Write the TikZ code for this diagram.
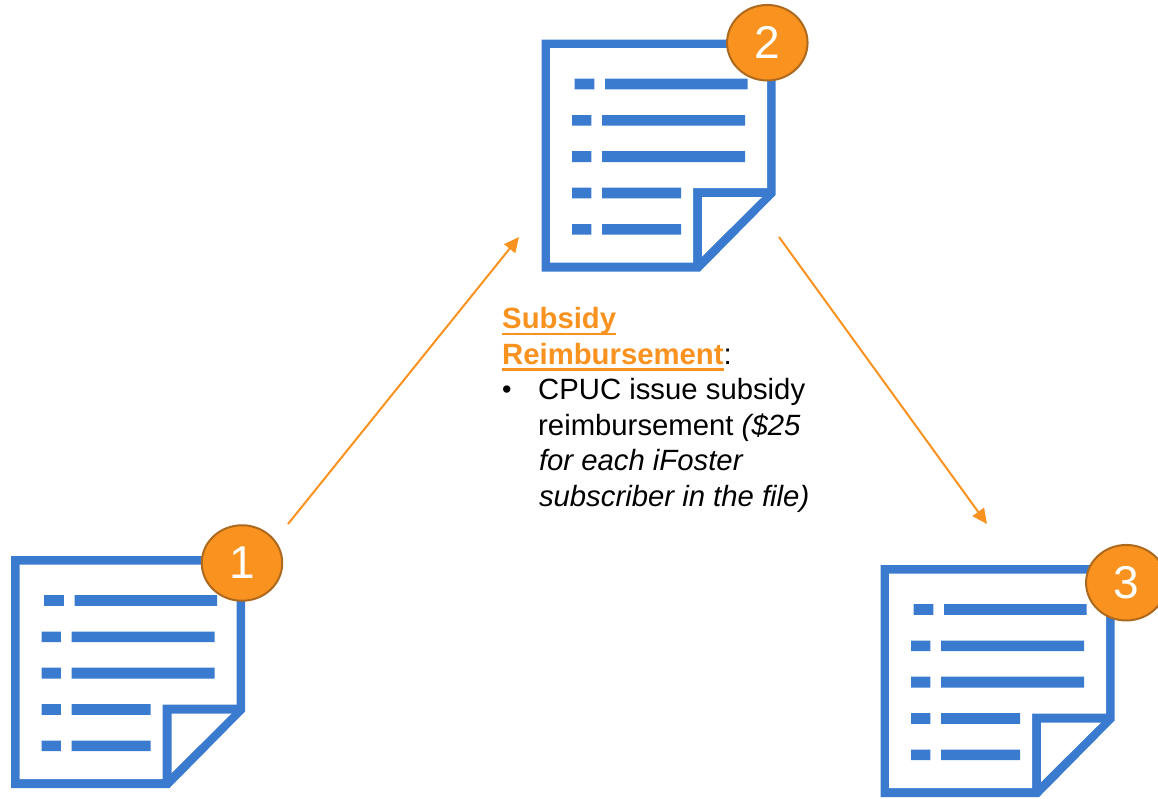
\documentclass[tikz,border=0pt]{standalone}
\usepackage{fontspec}
\setmainfont{Liberation Sans}
\usetikzlibrary{arrows.meta,shapes.geometric}
\definecolor{iconblue}{HTML}{3A7BD0}
\definecolor{accent}{HTML}{F9921F}
\definecolor{accentdark}{HTML}{AD6A1E}
\newcommand{\ulbar}[1]{\leavevmode\setbox0\hbox{#1}\rlap{\rule[-6.6pt]{\wd0}{2.8pt}}\box0}
\tikzset{
  badge/.style={ellipse,draw=accentdark,line width=2pt,fill=accent,text=white,
    minimum width=80.5pt,minimum height=75.5pt,inner sep=0pt,font=\fontsize{46}{50}\selectfont},
  flow/.style={draw=accent,line width=2pt,-{Triangle[length=15pt,width=14pt]}},
  bar/.style={fill=iconblue},
  pics/noteicon/.style={code={
    \fill[iconblue] (0,0) -- (234,0) -- (234,155.5) -- (158.5,232) -- (0,232) -- cycle;
    \fill[white] (8.5,8.5) -- (225.5,8.5) -- (225.5,148.5) -- (151.5,148.5) -- (151.5,223) -- (8.5,223) -- cycle;
    \fill[white] (160.5,157.5) -- (220.5,157.5) -- (160.5,217) -- cycle;
    \path[bar] (33.2,39.2) rectangle (52.8,49.8) (63.5,39.2) rectangle (206.2,49.8);
    \path[bar] (30.5,75.5) rectangle (49.8,86.2) (60.5,75.5) rectangle (203.5,86.2);
    \path[bar] (30.5,111.5) rectangle (49.8,122.5) (60.5,111.5) rectangle (203.5,122.5);
    \path[bar] (30.5,148.2) rectangle (49.8,158.8) (60.5,148.2) rectangle (139.5,158.8);
    \path[bar] (30.5,184.5) rectangle (49.8,195.2) (60.5,184.5) rectangle (139.5,195.2);
  }}
}
\begin{document}
\begin{tikzpicture}[x=1pt,y=-1pt]
\clip (0,0) rectangle (1158,798);
\fill[white] (0,0) rectangle (1158,798);
\pic (icona) at (11,556) {noteicon};
\pic (iconb) at (541.5,39.5) {noteicon};
\pic (iconc) at (880.5,565) {noteicon};
\node[badge] (one) at (242,563) {1};
\node[badge] (two) at (767.3,42.7) {2};
\node[badge] (three) at (1126.3,582.7) {3};
\coordinate (s1) at (288,524);
\coordinate (e1) at (519,237);
\coordinate (s2) at (779,237);
\coordinate (e2) at (987,524);
\draw[flow] (s1) -- (e1);
\draw[flow] (s2) -- (e2);
\node[anchor=north west,inner sep=0pt,align=left,font=\fontsize{29.3}{35.5}\selectfont] (body) at (502,307.3) {%
  \textcolor{accent}{\ulbar{\textbf{Subsidy}}}\\
  \textcolor{accent}{\ulbar{\textbf{Reimbursement}}}:\\
  \makebox[36pt][l]{\fontsize{27}{27}\selectfont\raisebox{1.5pt}{•}}CPUC issue subsidy\\
  \hspace*{36pt}reimbursement \textit{(\$25}\\
  \hspace*{36.8pt}\textit{for each iFoster}\\
  \hspace*{36.8pt}\textit{subscriber in the file)}};
\end{tikzpicture}
\end{document}
